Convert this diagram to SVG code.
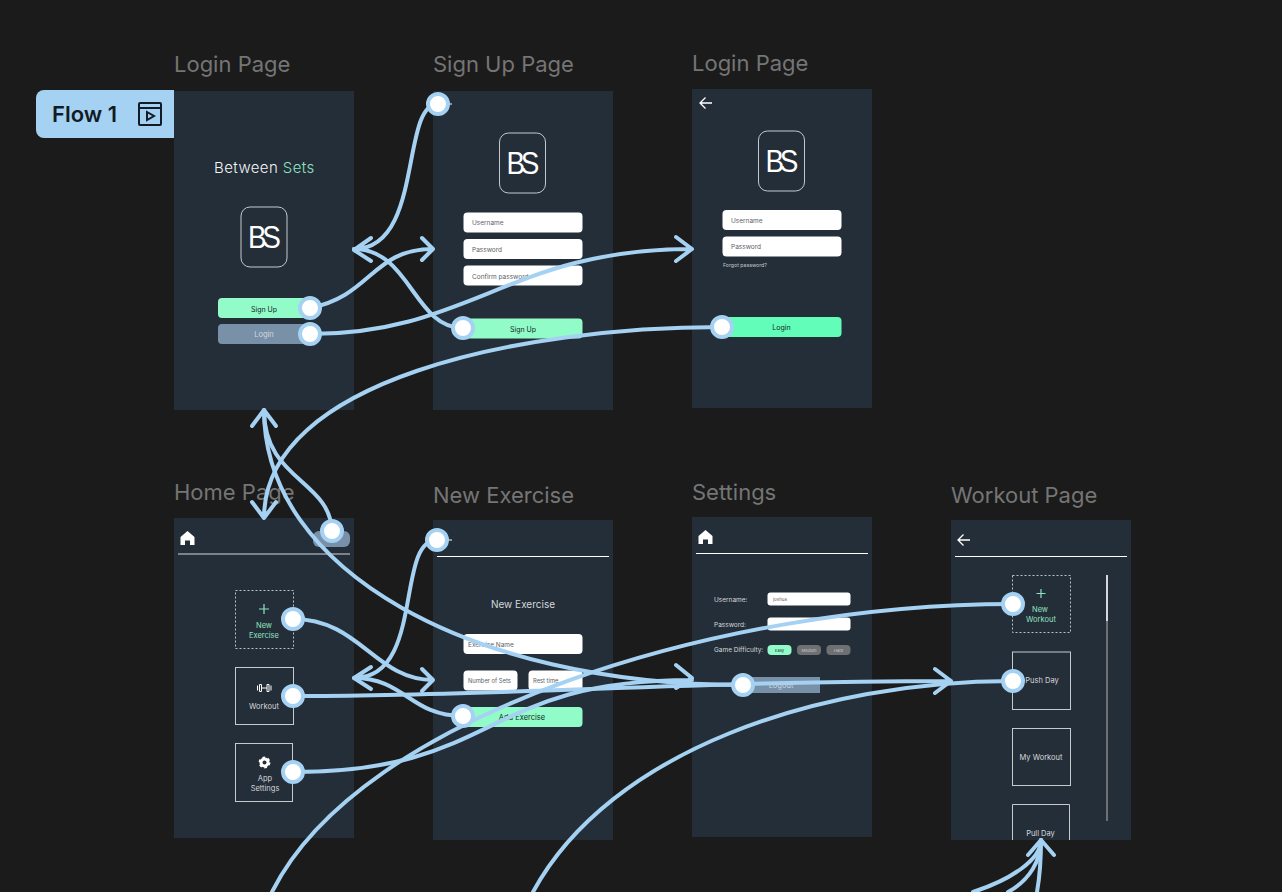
<svg xmlns="http://www.w3.org/2000/svg" width="1282" height="892" viewBox="0 0 1282 892">
<style>
text{font-family:Inter,"Liberation Sans",sans-serif}
.title{font-size:22px;fill:#757575}
.frame{fill:#242e38}
.logo{fill:none;stroke:#c4c8cc;stroke-width:1}
.bs{font-family:"Liberation Sans",sans-serif;font-size:31px;fill:#fff;text-anchor:middle;letter-spacing:-5px}
.input{fill:#fff}
.ph{font-size:6.500px;fill:#5c6166}
.phs{font-size:5.800px;fill:#5c6166}
.btn{font-size:7px;fill:#11281f;text-anchor:middle}
.lt{font-size:7.500px;fill:#d4d8dc;text-anchor:middle}
.gn{font-size:7.500px;fill:#8fe3c0;text-anchor:middle}
.lab{font-size:6.500px;fill:#d4d8dc}
.box{fill:none;stroke:#c6cacd;stroke-width:1}
.dash{fill:none;stroke:#b4c4c4;stroke-width:1;stroke-dasharray:2 2}
.rule{stroke:#fff;stroke-width:1}
.ic{fill:none;stroke:#fff;stroke-width:1.300}
.c{fill:none;stroke:#a5d1f3;stroke-width:4;stroke-linecap:round;stroke-linejoin:round}
.h{fill:#fff;stroke:#a5d1f3;stroke-width:4}
</style>
<defs>
<path id="home" d="M0 -7L7 -1V7H2.500V2.500H-2.500V7H-7V-1Z" fill="#fff"/>
<path id="back" d="M6 0H-5.500M-0.500 -5.500L-6 0L-0.500 5.500" class="ic"/>
<g id="logo"><rect x="-23" y="-30" width="46" height="60" rx="9" class="logo"/><text x="-2" y="11" class="bs" transform="scale(.9 1)">BS</text></g>
</defs>
<rect width="1282" height="892" fill="#1b1b1b"/>

<g id="flow-label">
<path d="M174 90H44a8 8 0 0 0-8 8v32a8 8 0 0 0 8 8H174Z" fill="#a5d1f3"/>
<text x="52" y="122" font-size="22" font-weight="600" fill="#111c26">Flow 1</text>
<g fill="none" stroke="#111c26" stroke-width="2"><rect x="139" y="103" width="22" height="22" rx="1"/><path d="M139 108H161"/><path d="M147 112L154 116L147 120Z"/></g>
</g>

<g id="login-page">
<text x="174" y="72" class="title">Login Page</text>
<rect x="174" y="91" width="180" height="319" class="frame"/>
<text x="214" y="173" font-size="15" font-weight="300" fill="#f2f4f5" letter-spacing=".4">Between <tspan fill="#8fe3c0">Sets</tspan></text>
<use href="#logo" x="264" y="237"/>
<rect x="218" y="298" width="92" height="20" rx="4" fill="#92fcc9"/><text x="264" y="312" class="btn">Sign Up</text>
<rect x="218" y="324" width="92" height="20" rx="4" fill="#7890a8"/><text x="264" y="337" class="lt">Login</text>
</g>

<g id="sign-up-page">
<text x="433" y="72" class="title">Sign Up Page</text>
<rect x="433" y="91" width="180" height="319" class="frame"/>
<path d="M446 104H452" stroke="#fff"/>
<use href="#logo" x="522.500" y="163"/>
<rect x="463.500" y="212.500" width="119" height="20" rx="4" class="input"/><text x="472" y="225" class="ph">Username</text>
<rect x="463.500" y="239" width="119" height="20" rx="4" class="input"/><text x="472" y="252" class="ph">Password</text>
<rect x="463.500" y="265.500" width="119" height="20" rx="4" class="input"/><text x="472" y="279" class="ph">Confirm password</text>
<rect x="463.500" y="318.500" width="119" height="20" rx="4" fill="#92fcc9"/><text x="523" y="332" class="btn">Sign Up</text>
</g>

<g id="login-page-2">
<text x="692" y="71" class="title">Login Page</text>
<rect x="692" y="89" width="180" height="319" class="frame"/>
<use href="#back" x="706" y="103"/>
<use href="#logo" x="781.500" y="161"/>
<rect x="722.500" y="210" width="119" height="20" rx="4" class="input"/><text x="731" y="222.500" class="ph">Username</text>
<rect x="722.500" y="236.500" width="119" height="20" rx="4" class="input"/><text x="731" y="249" class="ph">Password</text>
<text x="723" y="267" font-size="5.200" fill="#c4c8cc">Forgot password?</text>
<rect x="722.500" y="317" width="119" height="20" rx="4" fill="#62fdb9"/><text x="781.500" y="330" class="btn">Login</text>
</g>

<g id="home-page">
<text x="174" y="500" class="title">Home Page</text>
<rect x="174" y="518" width="180" height="320" class="frame"/>
<use href="#home" x="187.500" y="538"/>
<rect x="313" y="531" width="37" height="16" rx="6" fill="#7890a8"/>
<path d="M178 554H350" stroke="#9a9fa4" stroke-width="1.500"/>
<rect x="235.500" y="590.500" width="58" height="58" class="dash"/>
<path d="M264 604V614M259 609H269" stroke="#8fe3c0" stroke-width="1.200"/>
<text x="264" y="628" class="gn">New</text><text x="264" y="638" class="gn">Exercise</text>
<rect x="235.500" y="667.500" width="58" height="57" class="box"/>
<path d="M257.500 685.500V690.500M259.500 684.500H261.500V691.500H259.500ZM261.500 688H267M267 684.500H269V691.500H267ZM271 685.500V690.500" fill="none" stroke="#fff" stroke-width="1"/>
<text x="264" y="709" class="lt">Workout</text>
<rect x="235.500" y="743.500" width="57" height="58" class="box"/>
<circle cx="264.500" cy="762.500" r="3.500" fill="none" stroke="#fff" stroke-width="3"/>
<circle cx="264.500" cy="762.500" r="5" fill="none" stroke="#fff" stroke-width="1.800" stroke-dasharray="2.600 2.640"/>
<text x="265" y="781" class="lt">App</text><text x="265" y="791" class="lt">Settings</text>
</g>

<g id="new-exercise">
<text x="433" y="503" class="title">New Exercise</text>
<rect x="433" y="520" width="180" height="320" class="frame"/>
<path d="M446 540H452" stroke="#fff"/>
<path d="M437 556.500H609" class="rule"/>
<text x="523" y="608" font-size="10" fill="#d4d8dc" text-anchor="middle">New Exercise</text>
<rect x="463.500" y="634" width="119" height="20" rx="4" class="input"/><text x="468" y="646.500" class="ph">Exercise Name</text>
<rect x="463.500" y="670.500" width="54" height="20" rx="4" class="input"/><text x="468" y="683" class="phs">Number of Sets</text>
<rect x="528.500" y="670.500" width="54" height="20" rx="4" class="input"/><text x="533" y="683" class="phs">Rest time</text>
<rect x="463.500" y="707" width="119" height="20" rx="4" fill="#92fcc9"/><text x="522" y="720" class="btn" style="font-size:7.500px">Add Exercise</text>
</g>

<g id="settings">
<text x="692" y="500" class="title">Settings</text>
<rect x="692" y="517" width="180" height="320" class="frame"/>
<use href="#home" x="705.500" y="537"/>
<path d="M696 553.500H868" class="rule"/>
<text x="714" y="602" class="lab">Username:</text>
<rect x="767.500" y="592.500" width="83" height="13" rx="3" class="input"/><text x="773" y="601" font-size="4.500" fill="#5c6166">joshua</text>
<text x="714" y="627" class="lab">Password:</text>
<rect x="767.500" y="617.500" width="83" height="13" rx="3" class="input"/>
<text x="714" y="652" class="lab">Game Difficulty:</text>
<rect x="767.500" y="645" width="24" height="10" rx="4" fill="#92fcc9"/><text x="779.500" y="651.500" font-size="4" text-anchor="middle" fill="#11281f">Easy</text>
<rect x="797" y="645" width="24" height="10" rx="4" fill="#6e7072"/><text x="809" y="651.500" font-size="4" text-anchor="middle" fill="#c4c8cc">Medium</text>
<rect x="826.500" y="645" width="24" height="10" rx="4" fill="#6e7072"/><text x="838.500" y="651.500" font-size="4" text-anchor="middle" fill="#c4c8cc">Hard</text>
<rect x="743" y="677" width="77" height="16" fill="#7890a8"/><text x="781" y="688" class="lt">Logout</text>
</g>

<g id="workout-page">
<text x="951" y="503" class="title">Workout Page</text>
<rect x="951" y="520" width="180" height="320" class="frame"/>
<use href="#back" x="964" y="540"/>
<path d="M955 556.500H1127" class="rule"/>
<rect x="1012.500" y="575.500" width="58" height="57" class="dash"/>
<path d="M1041 589V598M1036.500 593.500H1045.500" stroke="#8fe3c0" stroke-width="1.200"/>
<text x="1040" y="612" class="gn">New</text><text x="1041" y="622" class="gn">Workout</text>
<rect x="1012.500" y="652" width="58" height="57.500" class="box"/>
<text x="1042" y="683" class="lt">Push Day</text>
<rect x="1012.500" y="728.500" width="58" height="57" class="box"/>
<text x="1041" y="760" class="lt">My Workout</text>
<path d="M1012.500 840V804.500H1069.500V840" class="box"/>
<text x="1040.500" y="836" class="lt">Pull Day</text>
<rect x="1106" y="575" width="2" height="246" fill="#6e7072"/>
<rect x="1106" y="575" width="2" height="46" fill="#d4d8dc"/>
</g>

<g id="connectors">
<path class="c" d="M310 308C372 296 372 249 433 249M422 238L433 249L422 260"/>
<path class="c" d="M310 334C470 334 510 249 692 249M676 237L692 249L676 261"/>
<path class="c" d="M438 104C400 104 424 249 354 249M371 238L354 250L371 261"/>
<path class="c" d="M463 328C414 328 410 249 354 249"/>
<path class="c" d="M722 327C520 327 264 380 264 518M252 502L264 518L276 502"/>
<path class="c" d="M332 531C330 480 264 480 264 410M252 426L264 410L276 426"/>
<path class="c" d="M743 685C470 685 264 570 264 410"/>
<path class="c" d="M293 619C360 619 375 680 433 680M422 669L433 680L422 691"/>
<path class="c" d="M293 696C500 696 700 681 951 681M935 669L951 681L935 693"/>
<path class="c" d="M293 772C500 772 480 680 692 680M676 665L692 678L676 688"/>
<path class="c" d="M437 540C395 540 425 678 354 678M371 667L354 678L371 689"/>
<path class="c" d="M463 716C410 716 405 678 354 678"/>
<path class="c" d="M1013 604C720 604 360 715 272 892"/>
<path class="c" d="M1013 681C820 681 610 750 533 892"/>
<path class="c" d="M973 892C1010 880 1041 860 1041 840M1028 855L1041 840L1054 855"/>
<path class="c" d="M1008 892C1030 880 1041 860 1041 840"/>
<path class="c" d="M1037 892C1040 875 1041 860 1041 840"/>
<circle class="h" cx="310" cy="308" r="10"/>
<circle class="h" cx="310" cy="334" r="10"/>
<circle class="h" cx="438" cy="104" r="10"/>
<circle class="h" cx="463" cy="328" r="10"/>
<circle class="h" cx="722" cy="327" r="10"/>
<circle class="h" cx="332" cy="531" r="10"/>
<circle class="h" cx="293" cy="619" r="10"/>
<circle class="h" cx="293" cy="696" r="10"/>
<circle class="h" cx="293" cy="772" r="10"/>
<circle class="h" cx="437" cy="540" r="10"/>
<circle class="h" cx="463" cy="716" r="10"/>
<circle class="h" cx="743" cy="685" r="10"/>
<circle class="h" cx="1013" cy="604" r="10"/>
<circle class="h" cx="1013" cy="681" r="10"/>
</g>
</svg>
